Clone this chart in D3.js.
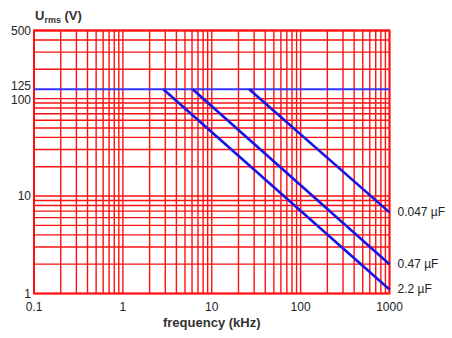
<!DOCTYPE html>
<html>
<head>
<meta charset="utf-8">
<script src="https://cdn.jsdelivr.net/npm/d3@7"></script>
<style>
  body { margin: 0; background: #fff; }
  text { font-family: "Liberation Sans", Arial, sans-serif; fill: #222; }
</style>
</head>
<body>
<div id="chart"></div>
<script>
// axis labels
const xTickValues = [0.1, 1, 10, 100, 1000];
const yTickValues = [1, 10, 100, 125, 500];
const ratedVoltage = 125;

// one line per capacitor value: [frequency kHz, Urms V]
const capLabels = ["2.2 µF", "0.47 µF", "0.047 µF"];
const cap2_2 = [[2.85, 125], [1000, 1.1]];
const cap0_47 = [[6.1, 125], [1000, 2.0]];
const cap0_047 = [[26.4, 125], [1000, 6.8]];
const capSeries = [cap2_2, cap0_47, cap0_047];

const width = 452, height = 338;

const svg = d3.select('#chart').append('svg')
  .attr('width', width).attr('height', height);

const x = d3.scaleLog().domain([0.1, 1000]).range([34, 389.5]);
const y = d3.scaleLog().domain([1, 500]).range([293.5, 30.5]);

// grid
const grid = svg.append('g').attr('stroke', '#ff1010').attr('stroke-width', 1.4);
grid.selectAll('line.vx')
  .data(x.ticks())
  .enter().append('line')
  .attr('x1', d => x(d)).attr('x2', d => x(d))
  .attr('y1', y(1)).attr('y2', y(500));
grid.selectAll('line.hy')
  .data(y.ticks().concat([500]))
  .enter().append('line')
  .attr('y1', d => y(d)).attr('y2', d => y(d))
  .attr('x1', x(0.1)).attr('x2', x(1000));
svg.append('rect')
  .attr('x', x(0.1)).attr('y', y(500))
  .attr('width', x(1000) - x(0.1)).attr('height', y(1) - y(500))
  .attr('fill', 'none').attr('stroke', '#ff1010').attr('stroke-width', 2);

// rated voltage line
svg.append('line')
  .attr('x1', x(0.1)).attr('x2', x(1000))
  .attr('y1', y(ratedVoltage)).attr('y2', y(ratedVoltage))
  .attr('stroke', '#3333ff').attr('stroke-width', 2);

// derating lines
const line = d3.line().x(d => x(d[0])).y(d => y(d[1]));
svg.selectAll('path.cap')
  .data(capSeries)
  .enter().append('path')
  .attr('d', line)
  .attr('fill', 'none')
  .attr('stroke', '#1414e6')
  .attr('stroke-width', 2.6);

svg.selectAll('text.cap')
  .data(capSeries)
  .enter().append('text')
  .attr('x', d => x(d[d.length - 1][0]) + 8)
  .attr('y', d => y(d[d.length - 1][1]) + 4)
  .attr('font-size', 12)
  .text((d, i) => capLabels[i]);

// tick labels
svg.selectAll('text.xt')
  .data(xTickValues)
  .enter().append('text')
  .attr('x', d => x(d)).attr('y', 311)
  .attr('text-anchor', 'middle')
  .attr('font-size', 12)
  .text(d => d);

svg.selectAll('text.yt')
  .data(yTickValues)
  .enter().append('text')
  .attr('x', 31)
  .attr('y', d => y(d) + (d === 100 ? 5 : d === 125 ? 1 : 4))
  .attr('text-anchor', 'end')
  .attr('font-size', 12)
  .text(d => d);

// axis titles
svg.append('text')
  .attr('x', (x(0.1) + x(1000)) / 2).attr('y', 327)
  .attr('text-anchor', 'middle')
  .attr('font-size', 13).attr('font-weight', 'bold').style('fill', '#333')
  .text('frequency (kHz)');

const yt = svg.append('text')
  .attr('x', 35).attr('y', 20)
  .attr('font-size', 13).attr('font-weight', 'bold').style('fill', '#333');
yt.append('tspan').text('U');
yt.append('tspan').attr('font-size', 9).attr('dy', 3).text('rms');
yt.append('tspan').attr('dy', -3).text(' (V)');
</script>
</body>
</html>
